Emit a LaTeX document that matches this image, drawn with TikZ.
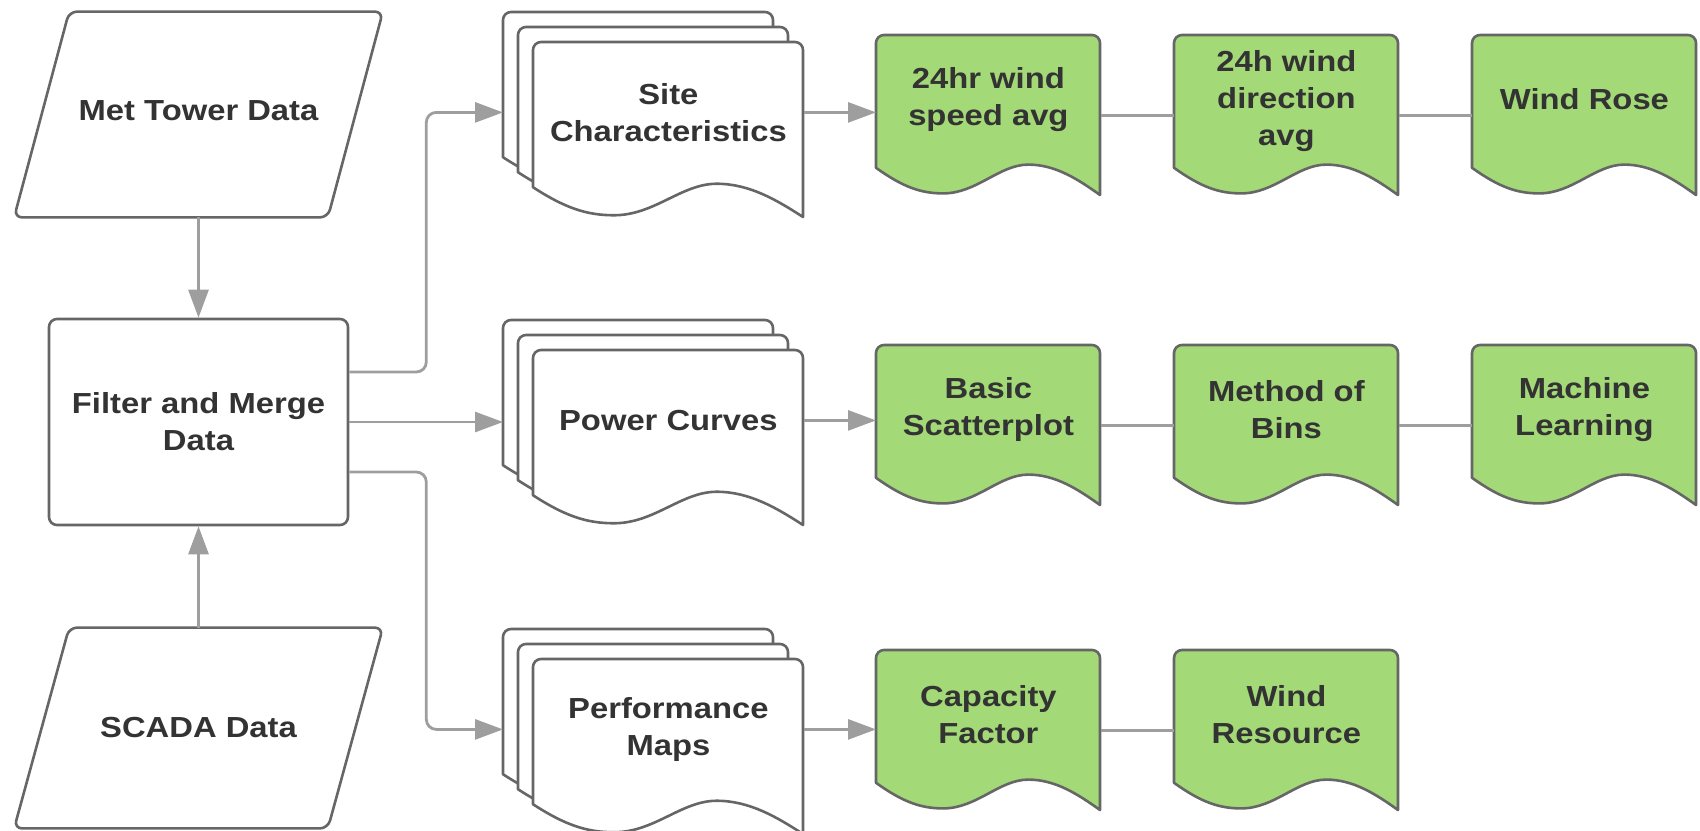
\documentclass[tikz,border=0pt]{standalone}
\usepackage{fontspec}
\newfontfamily\dfont{Liberation Sans}[FakeStretch=1.13]
\usetikzlibrary{arrows.meta,backgrounds,calc}
\definecolor{edgegray}{HTML}{666666}
\definecolor{conngray}{HTML}{9E9E9E}
\definecolor{gfill}{HTML}{A3D977}
\definecolor{txtgray}{HTML}{333333}
\tikzset{
  every node/.style={font=\dfont\bfseries\fontsize{14.5pt}{18.5pt}\selectfont, text=txtgray, align=center, inner sep=0pt},
  outline/.style={draw=edgegray, line width=1.3pt, line join=round},
  para/.style={minimum width=184pt, minimum height=102.5pt},
  docn/.style={minimum width=135pt, minimum height=70pt, anchor=north west},
  gnode/.style={minimum width=112pt, minimum height=80pt, anchor=north west},
  gtext/.style={yshift=8pt, align=center},
  procbox/.style={outline, fill=white, rounded corners=4pt, minimum width=149.5pt, minimum height=103pt},
  arrowline/.style={draw=conngray, line width=1.4pt, rounded corners=5pt, -{Triangle[length=14pt,width=10pt]}},
  linkline/.style={draw=conngray, line width=1.4pt}
}
\newcommand\docshape[4]{%
  \begin{scope}[shift={(#1.north west)}]
    \draw[outline, fill=#4] (0,{0.83*#3}) [rounded corners=4pt] -- (0,0) -- (#2,0) [sharp corners] -- (#2,#3)
      .. controls ({0.9*#2},{0.9*#3}) and ({0.8*#2},{0.81*#3}) .. ({0.68*#2},{0.81*#3})
      .. controls ({0.55*#2},{0.81*#3}) and ({0.45*#2},{0.99*#3}) .. ({0.3*#2},{0.99*#3})
      .. controls ({0.2*#2},{0.99*#3}) and ({0.12*#2},{0.95*#3}) .. (0,{0.83*#3}) -- cycle;
  \end{scope}}
\newcommand\parashape[1]{%
  \draw[outline, fill=white, rounded corners=4pt] ([xshift=27.5pt]#1.north west) -- (#1.north east)
    -- ([xshift=-27.5pt]#1.south east) -- (#1.south west) -- cycle;}
\begin{document}
\begin{tikzpicture}[x=0.5pt, y=-0.5pt]
\useasboundingbox (0,0) rectangle (1700,830);

% inputs and process
\node[para, label={[yshift=2pt]center:{Met Tower Data}}] (met) at (198.5,114.5) {};
\node[para, minimum height=100pt] (scada) at (198.5,728) {SCADA Data};
\node[procbox] (filter) at (198.5,422) {Filter and Merge\\Data};

% document stacks
\node[docn] (siteb) at (503,12) {};
\node[docn] (sitem) at (518,27) {};
\node[docn] (site) at (533,42) {Site\\Characteristics};
\node[docn] (pcb) at (503,320) {};
\node[docn] (pcm) at (518,335) {};
\node[docn] (pc) at (533,350) {Power Curves};
\node[docn] (pmb) at (503,629) {};
\node[docn] (pmm) at (518,644) {};
\node[docn] (pm) at (533,659) {Performance\\Maps};

% green outputs
\node[gnode, label={[gtext]center:{24hr wind\\speed avg}}] (g11) at (876,35) {};
\node[gnode, label={[gtext, yshift=-1pt]center:{24h wind\\direction\\avg}}] (g12) at (1174,35) {};
\node[gnode, label={[gtext]center:{Wind Rose}}] (g13) at (1472,35) {};
\node[gnode, label={[gtext]center:{Basic\\Scatterplot}}] (g21) at (876,345) {};
\node[gnode, label={[gtext]center:{Method of\\Bins}}] (g22) at (1174,345) {};
\node[gnode, label={[gtext]center:{Machine\\Learning}}] (g23) at (1472,345) {};
\node[gnode, label={[gtext]center:{Capacity\\Factor}}] (g31) at (876,650) {};
\node[gnode, label={[gtext]center:{Wind\\Resource}}] (g32) at (1174,650) {};

\begin{scope}[on background layer]
  \parashape{met}
  \parashape{scada}
  \docshape{siteb}{270}{175}{white}
  \docshape{sitem}{270}{175}{white}
  \docshape{site}{270}{175}{white}
  \docshape{pcb}{270}{175}{white}
  \docshape{pcm}{270}{175}{white}
  \docshape{pc}{270}{175}{white}
  \docshape{pmb}{270}{175}{white}
  \docshape{pmm}{270}{175}{white}
  \docshape{pm}{270}{175}{white}
  \docshape{g11}{224}{160}{gfill}
  \docshape{g12}{224}{160}{gfill}
  \docshape{g13}{224}{160}{gfill}
  \docshape{g21}{224}{160}{gfill}
  \docshape{g22}{224}{160}{gfill}
  \docshape{g23}{224}{160}{gfill}
  \docshape{g31}{224}{160}{gfill}
  \docshape{g32}{224}{160}{gfill}
\end{scope}

% connectors
\draw[arrowline] (met.south) -- (filter.north);
\draw[arrowline] (scada.north) -- (filter.south);
\draw[arrowline] ([yshift=25pt]filter.east) -- ++(77,0) |- (site.west -| siteb.west);
\draw[arrowline] (filter.east) -- (filter.east -| pcb.west);
\draw[arrowline] ([yshift=-25pt]filter.east) -- ++(77,0) |- (pm.west -| pmb.west);
\draw[arrowline] (site.east) -- (site.east -| g11.west);
\draw[arrowline] (pc.east) -- (pc.east -| g21.west);
\draw[arrowline] (pm.east) -- (pm.east -| g31.west);
\draw[linkline] (g11.east) -- (g12.west);
\draw[linkline] (g12.east) -- (g13.west);
\draw[linkline] (g21.east) -- (g22.west);
\draw[linkline] (g22.east) -- (g23.west);
\draw[linkline] (g31.east) -- (g32.west);
\end{tikzpicture}
\end{document}
